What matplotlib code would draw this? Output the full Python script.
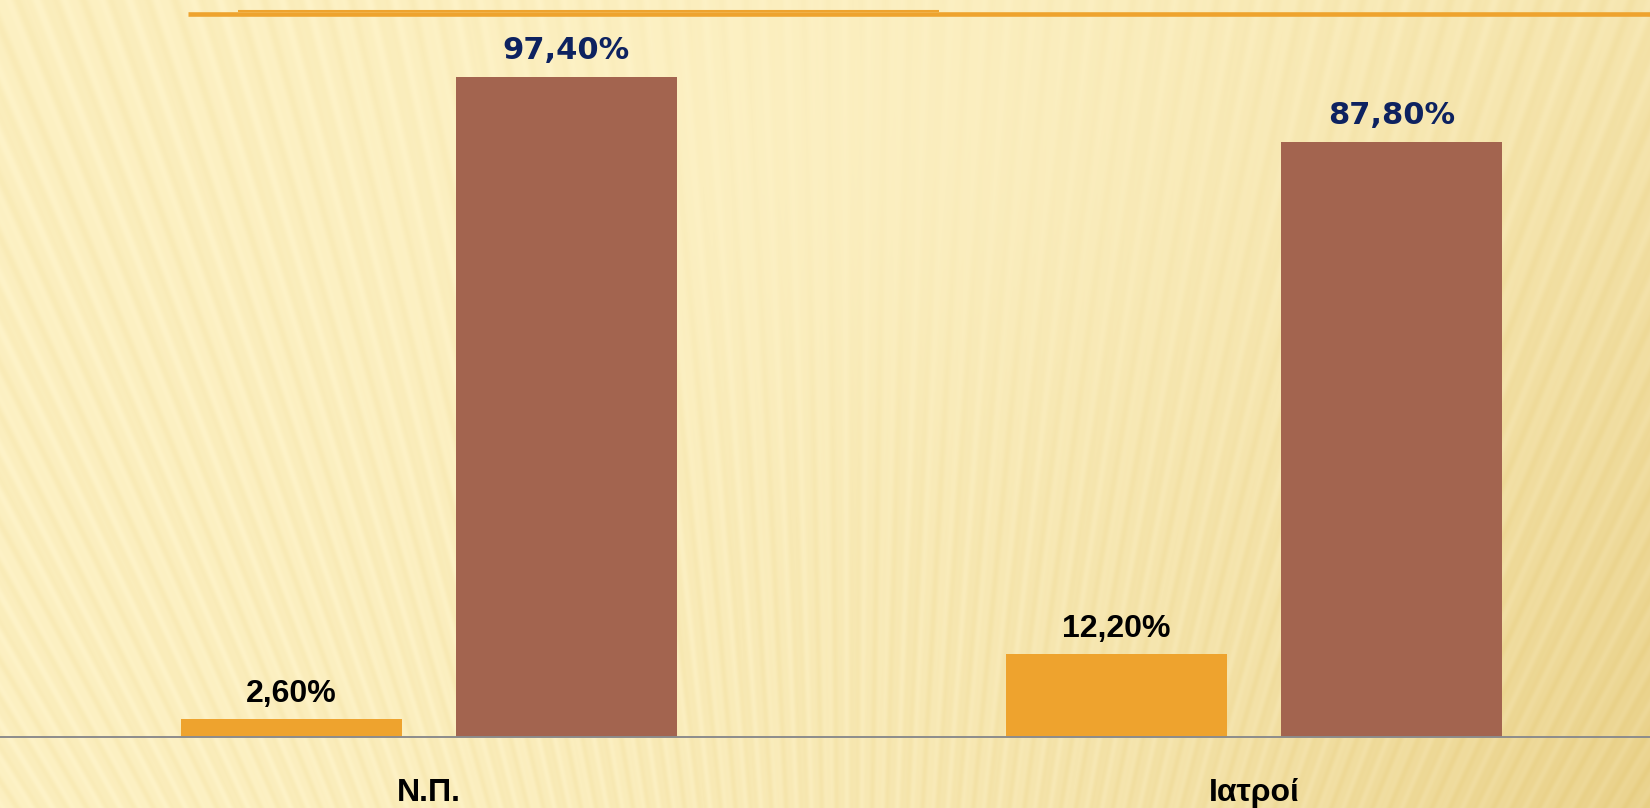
import matplotlib.pyplot as plt
import numpy as np
from matplotlib.lines import Line2D

# data
categories = ['Ν.Π.', 'Ιατροί']
yes_values = [2.6, 12.2]      # orange bars
no_values = [97.4, 87.8]      # brown bars

orange = '#EEA32E'
brown = '#A3644F'
navy = '#0D2260'

fig = plt.figure(figsize=(16.5, 8.08), dpi=100)

# background texture (cream paper with fanned stripes)
H, W = 808, 1650
yy, xx = np.mgrid[0:H, 0:W].astype(float)
ang = np.arctan2(xx - 850, 2100 - yy)
stripes = 0.5 + 0.35 * np.sin(ang * 480) + 0.15 * np.sin(ang * 1130 + 1.3)
t = np.clip((xx / W) ** 2.2 * (0.35 + 0.65 * yy / H), 0, 1)
light = np.array([254, 243, 200]) / 255
gold = np.array([236, 214, 148]) / 255
base = light[None, None, :] * (1 - t[..., None]) + gold[None, None, :] * t[..., None]
centre = np.exp(-(((xx - 900) / 450) ** 2 + ((yy - 150) / 300) ** 2))
amp = 0.055 * (1 - 0.75 * centre)
bg = base - (amp * stripes)[..., None] * np.array([0.35, 0.6, 1.3])
bg = np.clip(bg, 0, 1)
bg_ax = fig.add_axes([0, 0, 1, 1], zorder=0)
bg_ax.imshow(bg, aspect='auto', extent=[0, 1, 0, 1], interpolation='bilinear')
bg_ax.axis('off')

# chart
ax = fig.add_axes([0, 0.0882, 1, 0.9118], zorder=1)
ax.patch.set_alpha(0)
x = np.arange(len(categories))
bar_width = 0.268
offset = 1 / 6

b1 = ax.bar(x - offset, yes_values, width=bar_width, color=orange)
b2 = ax.bar(x + offset, no_values, width=bar_width, color=brown)

for rect, v in zip(b1, yes_values):
    ax.annotate(f'{v:.2f}%'.replace('.', ','), (rect.get_x() + rect.get_width() / 2, v),
                xytext=(0, 12.5), textcoords='offset points', ha='center', va='baseline',
                fontsize=23, fontweight='bold', color='black', family='Liberation Sans')
for rect, v in zip(b2, no_values):
    ax.annotate(f'{v:.2f}%'.replace('.', ','), (rect.get_x() + rect.get_width() / 2, v),
                xytext=(0, 13), textcoords='offset points', ha='center', va='baseline',
                fontsize=22, fontweight='bold', color=navy, family='DejaVu Sans')

ax.set_xlim(-0.52, 1.48)
ax.set_ylim(0, 108.8)
ax.set_xticks(x)
ax.set_xticklabels(categories, fontsize=23, fontweight='bold', family='Liberation Sans')
ax.tick_params(axis='x', length=0, pad=29.5)
ax.set_yticks([])
for s in ['top', 'left', 'right']:
    ax.spines[s].set_visible(False)
ax.spines['bottom'].set_color('#8C8C8C')
ax.spines['bottom'].set_linewidth(1.4)

# orange rule at the top of the slide
fig.add_artist(Line2D([188 / W, 1], [1 - 13.5 / H] * 2, color=orange, lw=3.3,
                      solid_capstyle='butt'))
fig.add_artist(Line2D([238 / W, 939 / W], [1 - 11 / H] * 2, color=orange, lw=1.5,
                      solid_capstyle='butt'))

plt.savefig('out.png', dpi=100)
